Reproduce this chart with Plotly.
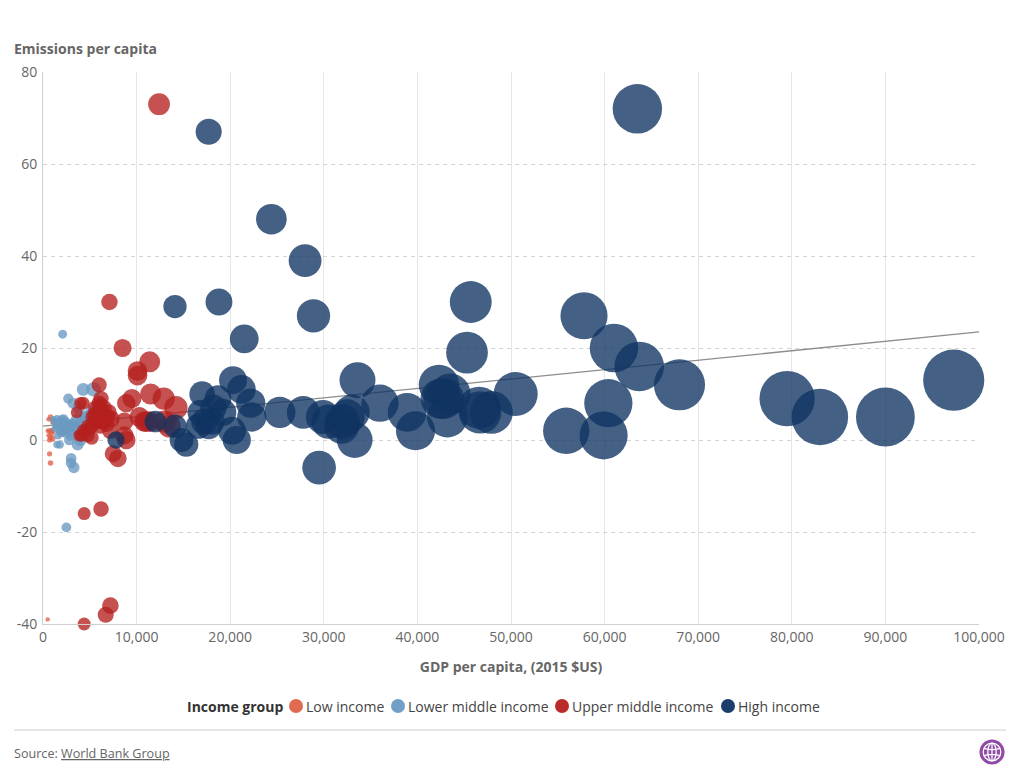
import base64
import plotly.graph_objects as go

FONT = "Open Sans"
low_x = [500, 700, 800, 600, 800, 500, 700, 900, 600, 800, 1000, 1100, 1000, 700]
low_y = [-39, -3, -5, 4.5, 5, 2, 2, 1.5, 1, 0.5, 0.3, 4, 2, 0]

lower_x = [2100, 2700, 4300, 5400, 3200, 3800, 2500, 3000, 3000, 3300, 1100, 1500, 2000, 2200, 1400, 1800,
           2100, 2300, 2700, 2800, 1500, 1800, 3700, 3400, 4200, 4500, 4900, 5300, 4200, 4000, 5000, 2400, 1600,
           1300, 1700, 1900, 2200, 2500, 1200, 1600, 2600, 3000, 3200, 3600, 1900, 2900, 2000, 2400, 3000, 3600, 4600]
lower_y = [23, 9, 11, 11, 8, 7, -19, -4, -5, -6, 4.5, 4.6, 4.5, 4.6, 3, 2,
           2, 3, 3, 0, -1, -1, -1, 3, 4, 5, 5, 6, 1, 0, 4, 1.5, 1,
           2.5, 3.5, 2.8, 1.9, 2.5, 4, 4, 3.5, 2, 3.5, 2.5, 1.5, 3, 3.5, 4, 1, 4.5, 2.5]

upper_x = [12400, 7100, 8500, 11400, 10100, 10100, 11500, 12900, 14200, 9500, 8900, 6000, 6200, 6000, 6500,
           5900, 6300, 6600, 6900, 6400, 4300, 4000, 3600, 3900, 4300, 4800, 5200, 5500, 5200, 7200, 8700,
           8900, 8700, 7500, 8000, 10300, 10800, 11000, 11400, 13000, 13500, 6200, 4400, 7200, 6700, 4400,
           5500, 5800, 6800, 6100, 5000, 4600, 7000, 5600, 5300, 6100, 7300, 4800, 4100]
upper_y = [73, 30, 20, 17, 15, 14, 10, 9, 7, 9, 8, 12, 9, 8, 7,
           6, 6, 5, 5, 4, 8, 8, 6, 1, 2, 3, 3, 4, 0.5, 2, 1,
           0, 4, -3, -4, 5, 4, 4, 4, 4, 3, -15, -16, -36, -38, -40,
           5.5, 4, 3.5, 3, 2.5, 2, 6, 7, 5, 7.5, 4.6, 1, 1]

high_x = [63500, 17700, 24400, 28000, 14100, 18800, 28900, 21500, 45700, 57800, 45300, 61000, 63700, 68000,
          79500, 83000, 90000, 97300, 55900, 59900, 60400, 50500, 47900, 46600, 46700, 43200, 42300, 43500,
          42800, 42500, 39800, 38900, 36000, 33600, 33300, 33000, 32500, 32000, 31900, 30500, 29900, 27800,
          29500, 25300, 22200, 22300, 21200, 20300, 20700, 20200, 19200, 18700, 18200, 18000, 17700, 17200,
          17000, 16800, 16600, 15300, 14800, 14100, 12000, 7800]
high_y = [72, 67, 48, 39, 29, 30, 27, 22, 30, 27, 19, 20, 16, 12,
          9, 5, 5, 13, 2, 1, 8, 10, 6, 7, 6, 5, 12, 10,
          9, 9, 2, 6, 8, 13, 0, 6, 5, 4, 3, 4, 5, 6,
          -6, 6, 8, 5, 11, 13, 0, 2, 6, 9, 7, 4, 3, 4,
          10, 6, 3, -1, 0, 3, 4, 0]

trend_x = [0, 100000]
trend_y = [3.0, 23.5]

x_ticks = [0, 10000, 20000, 30000, 40000, 50000, 60000, 70000, 80000, 90000, 100000]
y_ticks = [-40, -20, 0, 20, 40, 60, 80]
y_labels = ["-40", "-20", "0", "20", "40", "60", "80"]

series = [
    ("Low income", low_x, low_y, "#DF6249"),
    ("Lower middle income", lower_x, lower_y, "#6A9AC2"),
    ("Upper middle income", upper_x, upper_y, "#B5201F"),
    ("High income", high_x, high_y, "#0F3361"),
]

L, R, T, B = 43, 979, 72, 624
def px(v): return (v - L) / (R - L)
def py(v): return (B - v) / (B - T)

fig = go.Figure()
fig.add_trace(go.Scatter(x=trend_x, y=trend_y, mode="lines", showlegend=False, cliponaxis=False,
                         line=dict(color="#8c8c8c", width=1.3), hoverinfo="skip"))
for name, xs, ys, color in series:
    fig.add_trace(go.Scatter(x=xs, y=ys, mode="markers", name=name, showlegend=False, cliponaxis=False,
                             marker=dict(size=xs, sizemode="area", sizeref=52, color=color,
                                         opacity=0.78, line=dict(width=0))))

globe = """<svg xmlns='http://www.w3.org/2000/svg' viewBox='0 0 28 28'>
<circle cx='14' cy='14' r='13.5' fill='#8F4BA5'/>
<g fill='none' stroke='#fff' stroke-width='1.4'>
<circle cx='14' cy='14' r='9.5'/><ellipse cx='14' cy='14' rx='4.5' ry='9.5'/>
<path d='M5.5 10 Q14 13 22.5 10 M5.5 18 Q14 15 22.5 18 M14 4.5 V23.5'/></g></svg>"""
globe_uri = "data:image/svg+xml;base64," + base64.b64encode(globe.encode()).decode()

legend_centers = [296, 398, 562, 728]
annotations = [
    dict(text="<b>Emissions per capita</b>", xref="paper", yref="paper", x=px(12), y=py(48),
         xanchor="left", yanchor="middle", showarrow=False, font=dict(size=14, color="#666666")),
    dict(text="Source: <a href='https://www.worldbank.org' style='color:#666666'>"
              "<span style='text-decoration:underline'>World Bank Group</span></a>",
         xref="paper", yref="paper", x=px(12), y=py(753), xanchor="left", yanchor="middle",
         showarrow=False, font=dict(size=12.6, color="#666666")),
    dict(text="<b>Income group</b>", xref="paper", yref="paper", x=px(285), y=py(706),
         xanchor="right", yanchor="middle", showarrow=False, font=dict(size=14, color="#333333")),
]
shapes = [dict(type="line", xref="paper", yref="paper", x0=px(14), x1=px(1006), y0=py(730), y1=py(730),
               line=dict(color="#cccccc", width=1))]
for (name, _, _, color), c in zip(series, legend_centers):
    annotations.append(dict(text=name, xref="paper", yref="paper", x=px(c + 8), y=py(706), xanchor="left",
                            yanchor="middle", showarrow=False, font=dict(size=14, color="#444444")))
    shapes.append(dict(type="circle", xref="paper", yref="paper", x0=px(c - 7), x1=px(c + 7), y0=py(713),
                       y1=py(699), fillcolor=color, opacity=0.95, line=dict(width=0)))

fig.update_layout(
    width=1020, height=784, margin=dict(l=L, r=1020 - R, t=T, b=784 - B),
    paper_bgcolor="white", plot_bgcolor="white", showlegend=False,
    font=dict(family=FONT, size=14, color="#666666"),
    hovermode="closest",
    xaxis=dict(range=[0, 100000], tickvals=x_ticks, tickformat=",", showgrid=True, gridcolor="#e6e6e6",
               gridwidth=1, zeroline=False, showline=True, linecolor="#d0d0d0", ticks="",
               tickfont=dict(size=14, color="#666666"),
               title=dict(text="<b>GDP per capita, (2015 $US)</b>", font=dict(size=14, color="#666666"), standoff=17)),
    yaxis=dict(range=[-40, 80], tickvals=y_ticks, ticktext=y_labels, showgrid=True, gridcolor="#d4d4d4",
               griddash="4px,4px", gridwidth=1, zeroline=False, showline=True, linecolor="#d0d0d0", ticks="",
               tickfont=dict(size=14, color="#666666"), ticklabelstandoff=2),
    annotations=annotations,
    shapes=shapes,
    images=[dict(source=globe_uri, xref="paper", yref="paper", x=px(979), y=py(739), sizex=26 / (R - L),
                 sizey=26 / (B - T), xanchor="left", yanchor="top", layer="above")],
)
fig.write_html("out.html", post_script="document.body.style.margin='0';", config={"displayModeBar": False})
